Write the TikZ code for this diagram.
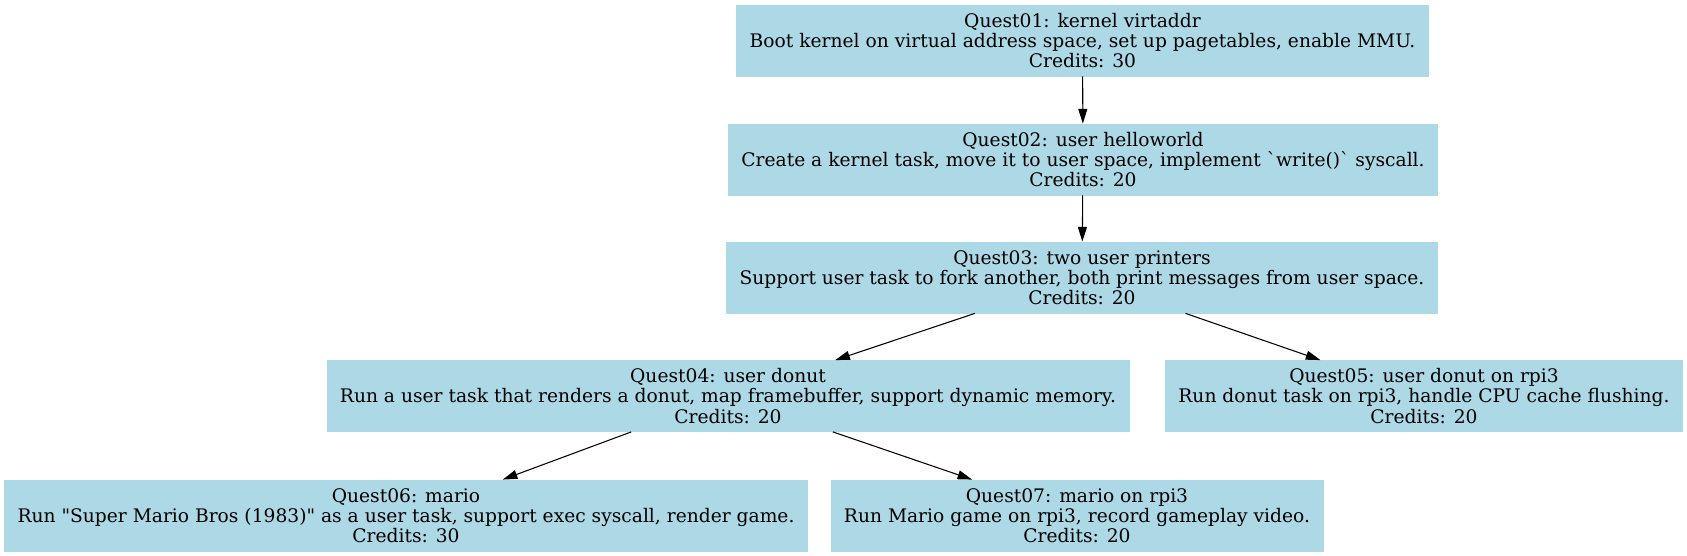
\documentclass[tikz,border=0pt]{standalone}
\usepackage{fontspec}
\setmainfont{DejaVu Serif}
\usepackage{tikz}
\usetikzlibrary{arrows.meta, positioning}
\usepackage{xcolor}
\definecolor{questblue}{RGB}{173,216,230}
\tikzset{
  % Quest block
  questbox/.style={
    rectangle, draw=questblue, fill=questblue, line width=0.6pt,
    align=center, font=\fontsize{14}{15.2}\selectfont,
    inner xsep=9.75pt, inner ysep=3pt, minimum height=53.25pt
  },
  questarrow/.style={-{Triangle[length=11pt, width=6.7pt]}, line width=0.8pt, color=black}
}
\begin{document}
\begin{tikzpicture}[x=0.75pt, y=0.75pt]
  \useasboundingbox (0,0) rectangle (1687,-556);

  % Quest chain
  \node[questbox] (q01) at (1082.5,-40.5)
    {Quest01: kernel virtaddr\\Boot kernel on virtual address space, set up pagetables, enable MMU.\\Credits: 30};
  \node[questbox] (q02) at (1083,-159.5)
    {Quest02: user helloworld\\Create a kernel task, move it to user space, implement \textasciigrave write()\textasciigrave{} syscall.\\Credits: 20};
  \node[questbox] (q03) at (1082,-277.5)
    {Quest03: two user printers\\Support user task to fork another, both print messages from user space.\\Credits: 20};

  % Branches
  \node[questbox] (q04) at (728,-396)
    {Quest04: user donut\\Run a user task that renders a donut, map framebuffer, support dynamic memory.\\Credits: 20};
  \node[questbox] (q05) at (1424,-396)
    {Quest05: user donut on rpi3\\Run donut task on rpi3, handle CPU cache flushing.\\Credits: 20};
  \node[questbox] (q06) at (406,-515.5)
    {Quest06: mario\\Run \textquotedbl Super Mario Bros (1983)\textquotedbl{} as a user task, support exec syscall, render game.\\Credits: 30};
  \node[questbox] (q07) at (1077,-515.5)
    {Quest07: mario on rpi3\\Run Mario game on rpi3, record gameplay video.\\Credits: 20};

  \draw[questarrow] (q01) -- (q02);
  \draw[questarrow] (q02) -- (q03);
  \draw[questarrow] (q03) -- (q04);
  \draw[questarrow] (q03) -- (q05);
  \draw[questarrow] (q04) -- (q06);
  \draw[questarrow] (q04) -- (q07);
\end{tikzpicture}
\end{document}
